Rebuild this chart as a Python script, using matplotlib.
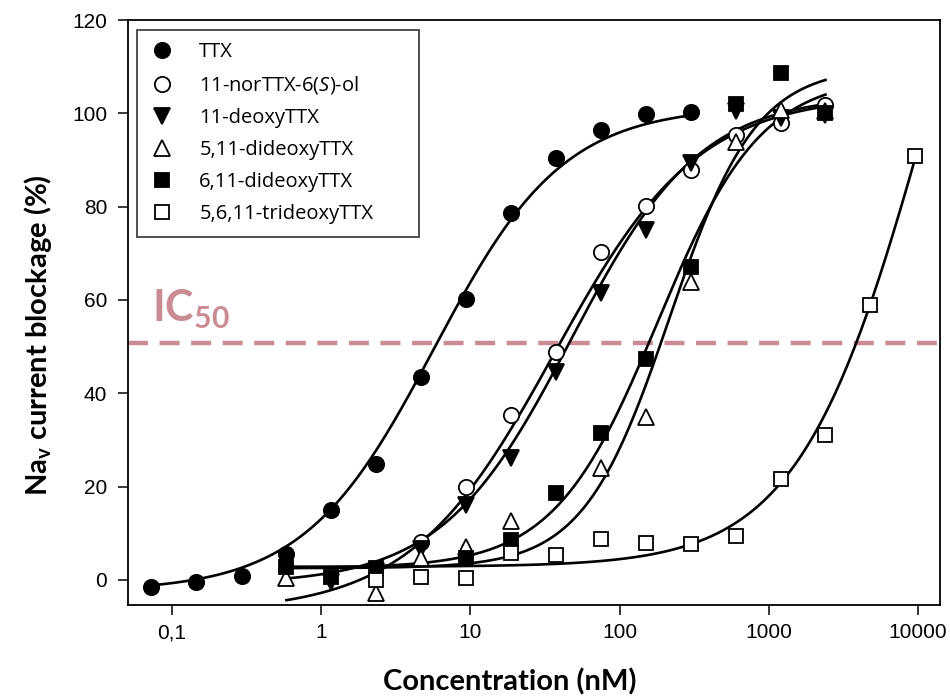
import numpy as np
import matplotlib
matplotlib.use('Agg')
import matplotlib.pyplot as plt
from matplotlib.ticker import NullLocator

plt.rcParams['mathtext.fontset'] = 'custom'
plt.rcParams['mathtext.rm'] = 'Open Sans'
plt.rcParams['mathtext.it'] = 'Open Sans:italic'
plt.rcParams['mathtext.bf'] = 'Lato:bold'

# concentrations (nM) and % blockage
conc_ttx = [0.073, 0.146, 0.293, 0.586, 1.17, 2.34, 4.69, 9.38, 18.75, 37.5, 75, 150, 300]
ttx = [-1.5, -0.5, 0.8, 5.5, 15.0, 24.8, 43.5, 60.2, 78.6, 90.4, 96.4, 99.8, 100.2]

conc_nor = [4.69, 9.38, 18.75, 37.5, 75, 150, 300, 600, 1200, 2400]
nor_ol = [8.1, 20.0, 35.4, 48.9, 70.3, 80.1, 87.9, 95.4, 98.0, 101.8]

conc_deoxy = [1.17, 2.34, 4.69, 9.38, 18.75, 37.5, 75, 150, 300, 600, 1200, 2400]
deoxy = [-0.5, 1.8, 6.5, 16.0, 26.2, 44.6, 61.5, 75.0, 89.3, 100.5, 99.0, 99.6]

conc_511 = [0.586, 2.34, 4.69, 9.38, 18.75, 75, 150, 300, 600, 1200, 2400]
dideoxy_511 = [0.4, -2.8, 4.7, 7.0, 12.6, 24.0, 35.0, 63.9, 93.9, 100.7, 100.5]

conc_611 = [0.586, 1.17, 2.34, 9.38, 18.75, 37.5, 75, 150, 300, 600, 1200, 2400]
dideoxy_611 = [2.8, 0.6, 2.5, 4.7, 8.6, 18.6, 31.4, 47.4, 67.0, 102.0, 108.6, 100.0]

conc_tri = [2.34, 4.69, 9.38, 18.75, 37.5, 75, 150, 300, 600, 1200, 2400, 4800, 9600]
trideoxy = [0.0, 0.6, 0.4, 5.8, 5.4, 8.8, 7.9, 7.7, 9.4, 21.6, 31.0, 59.0, 90.8]

# fitted dose-response curves: bottom, top, IC50 (nM), Hill slope, x range
fit_ttx = [-2.5, 101.5, 5.7, 1.0, 0.073, 300]
fit_nor = [-7.0, 104.0, 36.5, 0.9, 0.586, 2400]
fit_deoxy = [-1.0, 104.0, 47.3, 1.0, 0.586, 2400]
fit_511 = [2.5, 110.0, 217.0, 1.5, 0.586, 2400]
fit_611 = [2.5, 108.0, 180.0, 1.25, 0.586, 2400]
fit_tri = [2.8, 200.0, 12000.0, 1.0, 0.586, 9600]

labels = ['TTX', r'11-norTTX-6($\mathit{S}$)-ol', '11-deoxyTTX',
          '5,11-dideoxyTTX', '6,11-dideoxyTTX', '5,6,11-trideoxyTTX']

ic50_level = 50.8


def hill(x, bottom, top, ic50, h):
    return bottom + (top - bottom) / (1 + (ic50 / x) ** h)


fig = plt.figure(figsize=(9.5, 7), dpi=100)
ax = fig.add_axes([0.1347, 0.1357, 0.855, 0.8357])

for p in [fit_ttx, fit_nor, fit_deoxy, fit_511, fit_611, fit_tri]:
    xs = np.logspace(np.log10(p[4]), np.log10(p[5]), 300)
    ax.plot(xs, hill(xs, *p[:4]), color='black', lw=1.9, zorder=2)

series = [
    (conc_ttx, ttx, 'o', 'black'),
    (conc_nor, nor_ol, 'o', 'white'),
    (conc_deoxy, deoxy, 'v', 'black'),
    (conc_511, dideoxy_511, '^', 'white'),
    (conc_611, dideoxy_611, 's', 'black'),
    (conc_tri, trideoxy, 's', 'white'),
]
sizes = {'o': 11, 'v': 11, '^': 11, 's': 10}
for (xc, yv, m, fc), lab in zip(series, labels):
    ax.plot(xc, yv, ls='none', marker=m, ms=sizes[m], mfc=fc, mec='black',
            mew=1.3, label=lab, zorder=3)

ax.axhline(ic50_level, color='#cb8b93', lw=3.2, dashes=(4.5, 2.6), zorder=1)
ax.text(0.0735, 55.3, r'IC$_{\mathbf{50}}$', color='#cb8b93', fontsize=31,
        fontweight='bold', family='Lato', ha='left', va='baseline')

ax.set_xscale('log')
ax.set_xlim(0.0508, 14100)
ax.set_ylim(-5.4, 120)
ax.set_xticks([0.1, 1, 10, 100, 1000, 10000])
ax.set_xticklabels(['0,1', '1', '10', '100', '1000', '10000'])
ax.xaxis.set_minor_locator(NullLocator())
ax.set_yticks(range(0, 121, 20))
for t in ax.get_xticklabels() + ax.get_yticklabels():
    t.set_family('Liberation Sans')
    t.set_fontsize(15)
ax.tick_params(direction='out', length=7, width=1.1)
ax.tick_params(axis='y', pad=8)
ax.tick_params(axis='x', pad=6)
for s in ax.spines.values():
    s.set_linewidth(1.3)

ax.set_xlabel('Concentration (nM)', family='Lato', fontweight='bold', fontsize=21)
ax.xaxis.set_label_coords(0.470, -0.108)
ax.set_ylabel(r'Na$_{\mathbf{v}}$ current blockage (%)', family='Lato',
              fontweight='bold', fontsize=21)
ax.yaxis.set_label_coords(-0.091, 0.4615)

leg = ax.legend(loc='upper left', bbox_to_anchor=(0.011, 0.5, 0.347, 0.483),
                mode='expand', borderaxespad=0,
                prop={'family': 'Open Sans', 'size': 14.5}, fancybox=False,
                edgecolor='#222222', handlelength=1.3, handletextpad=1.2,
                labelspacing=0.6, borderpad=0.6)
leg.get_frame().set_linewidth(1.4)

fig.savefig('out.png', dpi=100)
